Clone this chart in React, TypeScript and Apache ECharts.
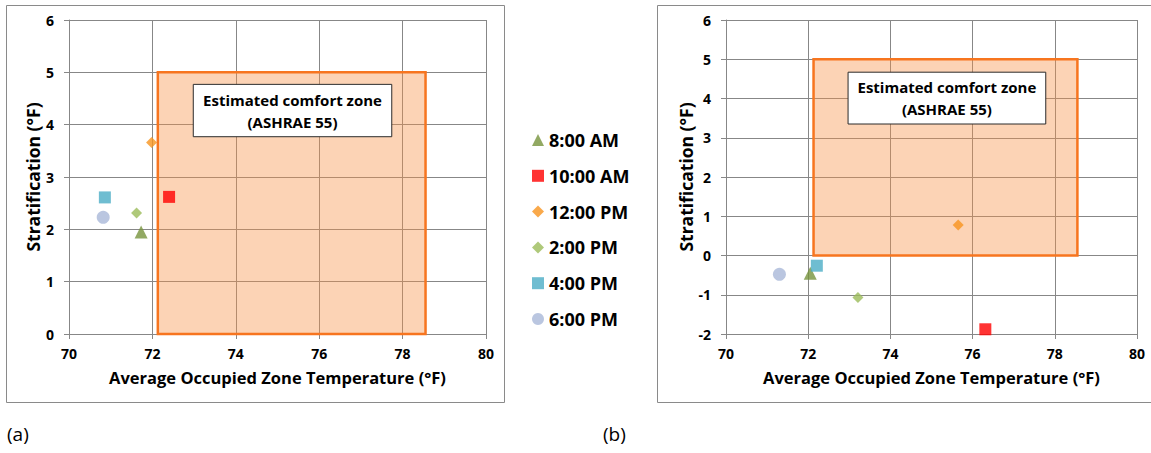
import React, { useEffect, useRef } from "react";
import * as echarts from "echarts";

const timeLabels = ["8:00 AM", "10:00 AM", "12:00 PM", "2:00 PM", "4:00 PM", "6:00 PM"];
const tempA = [71.73, 72.4, 71.98, 71.62, 70.86, 70.82];
const stratA = [1.95, 2.62, 3.66, 2.31, 2.61, 2.23];
const tempB = [72.05, 76.31, 75.65, 73.21, 72.21, 71.3];
const stratB = [-0.45, -1.88, 0.78, -1.07, -0.26, -0.48];
const symbols = ["triangle", "rect", "diamond", "diamond", "rect", "circle"];
const colors = ["#77933C", "#FF0000", "#F7931E", "#9BBB59", "#4BACC6", "#A9B8D8"];
const symbolSizes = [13, 12, 11, 11, 12, 13];

const zoneX = [72.13, 78.55];
const zoneY = [0, 5];
const noteXA = [72.98, 77.74];
const noteYA = [3.77, 4.77];
const noteXB = [72.97, 77.78];
const noteYB = [3.35, 4.67];
const noteText = "Estimated comfort zone\n(ASHRAE 55)";

const xTitle = "Average Occupied Zone Temperature (°F)";
const yTitle = "Stratification (°F)";

const FONT = "Open Sans";
const GRID_COLOR = "#878787";

function makeX(gridIndex: number) {
  return {
    type: "value",
    gridIndex,
    min: 70,
    max: 80,
    interval: 2,
    axisLine: { show: true, onZero: false, lineStyle: { color: GRID_COLOR, width: 1 } },
    axisTick: { show: true, length: 5, lineStyle: { color: GRID_COLOR } },
    splitLine: { show: true, lineStyle: { color: GRID_COLOR, width: 1 } },
    axisLabel: { color: "#000", fontWeight: "bold", fontSize: 14, fontFamily: FONT, margin: 12 },
    name: xTitle,
    nameLocation: "middle",
    nameGap: 35,
    nameTextStyle: { color: "#000", fontWeight: "bold", fontSize: 16.5, fontFamily: FONT },
  };
}

function makeY(gridIndex: number, min: number) {
  return {
    type: "value",
    gridIndex,
    min,
    max: 6,
    interval: 1,
    axisLine: { show: true, onZero: false, lineStyle: { color: GRID_COLOR, width: 1 } },
    axisTick: { show: true, length: 5, lineStyle: { color: GRID_COLOR } },
    splitLine: { show: true, lineStyle: { color: GRID_COLOR, width: 1 } },
    axisLabel: { color: "#000", fontWeight: "bold", fontSize: 14, fontFamily: FONT, margin: 15 },
    name: yTitle,
    nameLocation: "middle",
    nameGap: 27,
    nameTextStyle: { color: "#000", fontWeight: "bold", fontSize: 17.5, fontFamily: FONT },
  };
}

function zoneSeries(idx: number, nx: number[], ny: number[]) {
  return {
    type: "scatter",
    name: "zone" + idx,
    xAxisIndex: idx,
    yAxisIndex: idx,
    data: [],
    silent: true,
    z: 1,
    markArea: {
      silent: true,
      data: [
        [
          {
            coord: [zoneX[0], zoneY[0]],
            itemStyle: { color: "rgba(248,146,70,0.4)", borderColor: "#F7751F", borderWidth: 2.5 },
            label: { show: false },
          },
          { coord: [zoneX[1], zoneY[1]] },
        ],
        [
          {
            coord: [nx[0], ny[0]],
            itemStyle: { color: "#ffffff", borderColor: "#2b2b2b", borderWidth: 1 },
            label: {
              show: true,
              position: "inside",
              formatter: noteText,
              color: "#000",
              fontWeight: "bold",
              fontSize: 15,
              lineHeight: 22,
              fontFamily: FONT,
              align: "center",
            },
          },
          { coord: [nx[1], ny[1]] },
        ],
      ],
    },
  };
}

export default function App() {
  const ref = useRef<HTMLDivElement>(null);
  useEffect(() => {
    document.body.style.margin = "0";
    if (!ref.current) return;
    const chart = echarts.init(ref.current, null, { renderer: "svg" });
    const series: any[] = [zoneSeries(0, noteXA, noteYA), zoneSeries(1, noteXB, noteYB)];
    timeLabels.forEach((name, i) => {
      series.push({
        type: "scatter",
        name,
        xAxisIndex: 0,
        yAxisIndex: 0,
        symbol: symbols[i],
        symbolSize: symbolSizes[i],
        itemStyle: { color: colors[i] },
        z: 5,
        data: [[tempA[i], stratA[i]]],
      });
      series.push({
        type: "scatter",
        name,
        xAxisIndex: 1,
        yAxisIndex: 1,
        symbol: symbols[i],
        symbolSize: symbolSizes[i],
        itemStyle: { color: colors[i] },
        z: 5,
        data: [[tempB[i], stratB[i]]],
      });
    });
    chart.setOption({
      animation: false,
      textStyle: { fontFamily: FONT },
      grid: [
        { left: 69, top: 20, width: 417, height: 314 },
        { left: 726, top: 20, width: 411, height: 314 },
      ],
      xAxis: [makeX(0), makeX(1)],
      yAxis: [makeY(0, 0), makeY(1, -2)],
      legend: {
        data: timeLabels,
        orient: "vertical",
        left: 527,
        top: 125,
        itemWidth: 12,
        itemHeight: 12,
        itemGap: 15.8,
        selectedMode: false,
        textStyle: { color: "#000", fontWeight: "bold", fontSize: 18, lineHeight: 20, fontFamily: FONT },
      },
      graphic: [
        {
          type: "rect",
          shape: { x: 6.5, y: 5.5, width: 498, height: 397 },
          style: { fill: "none", stroke: "#8a8a8a", lineWidth: 1 },
          silent: true,
        },
        {
          type: "rect",
          shape: { x: 657.5, y: 5.5, width: 500, height: 397 },
          style: { fill: "none", stroke: "#8a8a8a", lineWidth: 1 },
          silent: true,
        },
        {
          type: "text",
          left: 7,
          top: 424,
          style: { text: "(a)", fontSize: 19, fontFamily: FONT, fill: "#000" },
        },
        {
          type: "text",
          left: 603,
          top: 424,
          style: { text: "(b)", fontSize: 19, fontFamily: FONT, fill: "#000" },
        },
      ],
      series,
    });
    return () => chart.dispose();
  }, []);
  return <div ref={ref} style={{ width: 1151, height: 453 }} />;
}
